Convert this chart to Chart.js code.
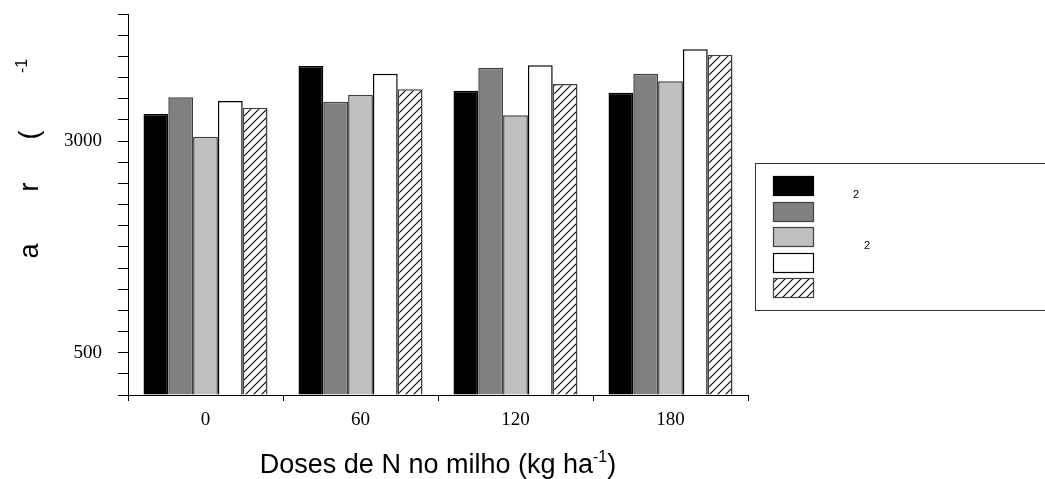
<!DOCTYPE html>
<html>
<head>
<meta charset="utf-8">
<script src="https://cdn.jsdelivr.net/npm/chart.js@4/dist/chart.umd.min.js"></script>
<style>
  html, body { margin: 0; padding: 0; background: #fff; }
  #wrap { width: 1045px; height: 479px; }
</style>
</head>
<body>
<div id="wrap"><canvas id="c" width="1045" height="479"></canvas></div>
<script>
// Doses de N (kg/ha) on the x axis
const categories = ['0', '60', '120', '180'];

// One array per treatment (bar order inside each dose group)
const serieA = [3319, 3886, 3594, 3570];
const serieB = [3516, 3464, 3866, 3795];
const serieC = [3051, 3547, 3303, 3705];
const serieD = [3472, 3795, 3894, 4083];
const serieE = [3393, 3611, 3673, 4019];

// Y ticks every 250; only these carry a label
const yLabelled = [500, 3000];
const yMin = 0, yMax = 4500, yStep = 250;

// Subscripts shown in the legend rows
const legendSubs = ['2', '', '2', '', ''];

// Diagonal hatch fill
function hatchPattern() {
  const s = 8;
  const c = document.createElement('canvas');
  c.width = s; c.height = s;
  const g = c.getContext('2d');
  g.fillStyle = '#fff';
  g.fillRect(0, 0, s, s);
  g.strokeStyle = '#000';
  g.lineWidth = 1.1;
  g.beginPath();
  g.moveTo(0, s); g.lineTo(s, 0);
  g.moveTo(-1, 1); g.lineTo(1, -1);
  g.moveTo(s - 1, s + 1); g.lineTo(s + 1, s - 1);
  g.stroke();
  return document.getElementById('c').getContext('2d').createPattern(c, 'repeat');
}
const hatch = hatchPattern();

const styles = [
  { bg: '#000000', bd: '#000000' },
  { bg: '#808080', bd: '#404040' },
  { bg: '#c0c0c0', bd: '#404040' },
  { bg: '#ffffff', bd: '#000000' },
  { bg: hatch,     bd: '#404040' }
];
const series = [serieA, serieB, serieC, serieD, serieE];

const datasets = series.map((d, i) => ({
  label: 'T' + (i + 1),
  data: d,
  backgroundColor: styles[i].bg,
  borderColor: styles[i].bd,
  borderWidth: 1.5,
  categoryPercentage: 0.8,
  barPercentage: 1.0
}));

// Axis titles and the boxed legend
const decorations = {
  id: 'decorations',
  afterDraw(chart) {
    const ctx = chart.ctx;
    const area = chart.chartArea;
    ctx.save();
    ctx.fillStyle = '#000';

    // x title with superscript
    const main = 'Doses de N no milho (kg ha';
    const sup = '-1';
    const tail = ')';
    const fMain = '27px "Liberation Sans", Arial, sans-serif';
    const fSup = '16px "Liberation Sans", Arial, sans-serif';
    ctx.font = fMain;
    const wMain = ctx.measureText(main).width;
    const wTail = ctx.measureText(tail).width;
    ctx.font = fSup;
    const wSup = ctx.measureText(sup).width;
    const total = wMain + wSup + wTail;
    let x = (area.left + area.right) / 2 - total / 2;
    const yb = 473;
    ctx.textBaseline = 'alphabetic';
    ctx.textAlign = 'left';
    ctx.font = fMain;
    ctx.fillText(main, x, yb);
    x += wMain;
    ctx.font = fSup;
    ctx.fillText(sup, x, yb - 11);
    x += wSup;
    ctx.font = fMain;
    ctx.fillText(tail, x, yb);

    // y title (rotated)
    ctx.save();
    ctx.translate(38, 0);
    ctx.rotate(-Math.PI / 2);
    ctx.textAlign = 'center';
    ctx.font = fMain;
    ctx.fillText('a', -251, 0);
    ctx.fillText('r', -187, 0);
    ctx.fillText('(', -135, 0);
    ctx.font = fSup;
    ctx.fillText('-1', -66, -11);
    ctx.restore();

    // legend box
    const bx = 755.5, by = 163.5, bh = 147;
    ctx.strokeStyle = '#333';
    ctx.lineWidth = 1;
    ctx.strokeRect(bx, by, chart.width - bx + 5, bh);
    const sx = 773, sw = 40, sh = 19, sy0 = 176, pitch = 25.6;
    chart.data.datasets.forEach((ds, i) => {
      const sy = Math.round(sy0 + i * pitch) + 0.5;
      ctx.fillStyle = ds.backgroundColor;
      ctx.fillRect(sx, sy, sw, sh);
      ctx.strokeStyle = ds.borderColor;
      ctx.lineWidth = 1.2;
      ctx.strokeRect(sx + 0.5, sy, sw, sh);
      if (legendSubs[i]) {
        ctx.fillStyle = '#000';
        ctx.font = '11px "Liberation Sans", Arial, sans-serif';
        ctx.textAlign = 'left';
        ctx.textBaseline = 'middle';
        ctx.fillText(legendSubs[i], i === 0 ? 853 : 864, sy + sh / 2 + 9);
      }
    });
    ctx.restore();
  }
};

new Chart(document.getElementById('c'), {
  type: 'bar',
  data: { labels: categories, datasets },
  options: {
    responsive: false,
    animation: false,
    layout: { padding: { left: 0, right: 297, top: 14, bottom: 0 } },
    plugins: { legend: { display: false }, tooltip: { enabled: false } },
    scales: {
      x: {
        offset: true,
        grid: {
          offset: true,
          drawOnChartArea: false,
          drawTicks: true,
          tickLength: 6,
          color: '#000',
          lineWidth: 1
        },
        border: { display: true, color: '#000', width: 1 },
        ticks: {
          color: '#000',
          padding: 8,
          font: { family: '"Liberation Serif", "Times New Roman", serif', size: 19 }
        },
        afterFit(scale) {
          scale.height = 84;
          scale.paddingLeft = 0;
          scale.paddingRight = 0;
        }
      },
      y: {
        min: yMin,
        max: yMax,
        grid: {
          drawOnChartArea: false,
          drawTicks: true,
          tickLength: 10,
          color: '#000',
          lineWidth: 1
        },
        border: { display: true, color: '#000', width: 1 },
        ticks: {
          stepSize: yStep,
          autoSkip: false,
          color: '#000',
          padding: 16,
          font: { family: '"Liberation Serif", "Times New Roman", serif', size: 19 },
          callback: (v) => yLabelled.includes(v) ? String(v) : ''
        },
        afterFit(scale) {
          scale.width = 128;
          scale.paddingTop = 0;
          scale.paddingBottom = 0;
        }
      }
    }
  },
  plugins: [decorations]
});
</script>
</body>
</html>
